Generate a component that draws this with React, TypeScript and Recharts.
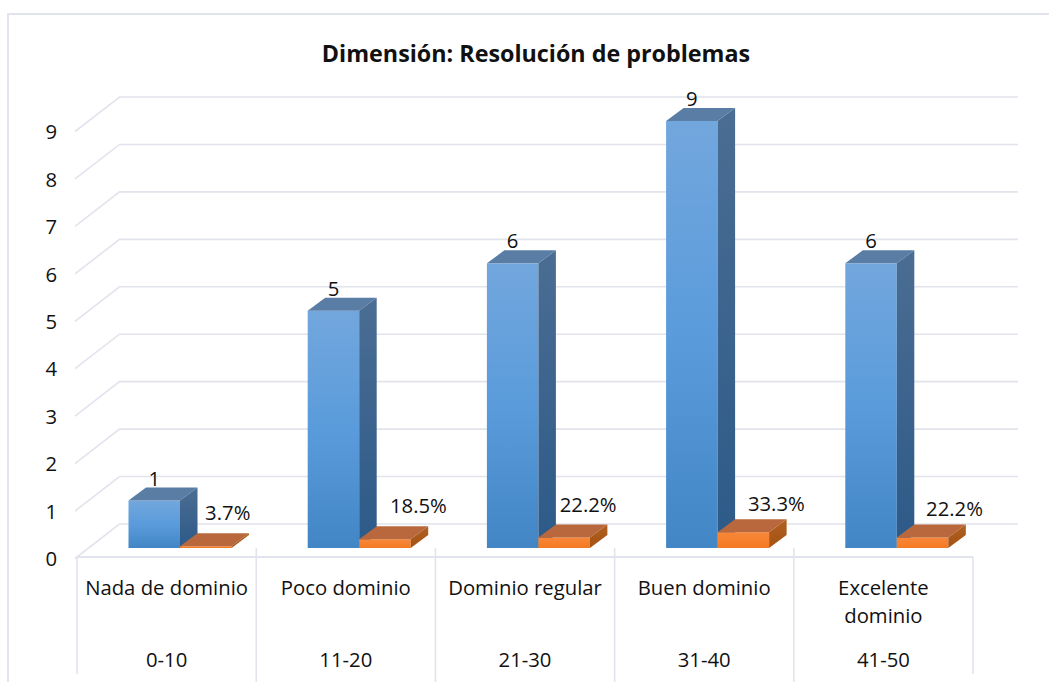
import React from "react";
import { BarChart, Bar, XAxis, YAxis, CartesianGrid, LabelList } from "recharts";

const levels = ["Nada de dominio", "Poco dominio", "Dominio regular", "Buen dominio", "Excelente dominio"];
const ranges = ["0-10", "11-20", "21-30", "31-40", "41-50"];
const counts = [1, 5, 6, 9, 6];
const percents = [3.7, 18.5, 22.2, 33.3, 22.2];
const yTicks = [0, 1, 2, 3, 4, 5, 6, 7, 8, 9];

// Hand-placed offsets of the percentage labels, as in the source chart.
const pctNudgeX = [22, 33.5, 24, 33, 32];
const pctNudgeY = [-33, -33, -32.5, -28, -28.5];

const rows = levels.map((level, i) => ({
  level,
  range: ranges[i],
  count: counts[i],
  share: percents[i] / 100,
}));

const FONT = "'Open Sans', sans-serif";
const FS = 20.3;
const GRID = "#e1e4ec";
const INK = "#111";
const DEPTH_X = 17.5;
const DEPTH_Y = 13;
const SHIFT_X = 13.5;
const SHIFT_Y = 9;
const WALL_X = 42.5;
const WALL_Y = 33;
const STEP = 179.1;

const Box3D = (palette: { front: string; top: string; side: string }) => (p: any) => {
  const x = p.x + SHIFT_X;
  const y = p.y - SHIFT_Y;
  const w = p.width;
  const h = p.height;
  const r = x + w;
  const b = y + h;
  return (
    <g>
      <rect x={x} y={y} width={w} height={h} fill={`url(#${palette.front})`} />
      <polygon
        points={`${x},${y} ${x + DEPTH_X},${y - DEPTH_Y} ${r + DEPTH_X},${y - DEPTH_Y} ${r},${y}`}
        fill={palette.top}
      />
      <polygon
        points={`${r},${y} ${r + DEPTH_X},${y - DEPTH_Y} ${r + DEPTH_X},${b - DEPTH_Y} ${r},${b}`}
        fill={`url(#${palette.side})`}
      />
    </g>
  );
};

const blueBox = Box3D({ front: "blueFront", top: "#5a7da6", side: "blueSide" });
const orangeBox = Box3D({ front: "orangeFront", top: "#b8683c", side: "orangeSide" });

const gridLine = (p: any) => {
  const { x1, x2, y1, index } = p;
  const backY = y1 - WALL_Y;
  const isFloor = Math.abs(y1 - 557) < 1;
  return (
    <g key={`grid-${index}-${y1}`}>
      <polyline
        points={`${x1 - 2},${y1 + 1.5} ${x1 + WALL_X},${backY} ${x2 + 45},${backY}`}
        fill="none"
        stroke={GRID}
        strokeWidth={1.6}
      />
      {isFloor && <line x1={x1} x2={x2} y1={y1} y2={y1} stroke={GRID} strokeWidth={2} />}
    </g>
  );
};

const LevelTick = (p: any) => {
  const { x, payload, index } = p;
  const text: string = payload.value;
  const lines = text === "Excelente dominio" ? ["Excelente", "dominio"] : [text];
  const left = x - STEP / 2;
  const right = x + STEP / 2;
  const top = 557;
  return (
    <g>
      <line x1={left} x2={left} y1={index === 0 ? top : 548} y2={index === 0 ? 674 : 682} stroke={GRID} strokeWidth={1.6} />
      {index === levels.length - 1 && <line x1={right} x2={right} y1={top} y2={674} stroke={GRID} strokeWidth={1.6} />}
      {lines.map((l, i) => (
        <text key={l} x={x} y={588 + i * 27.5} dy="0.35em" textAnchor="middle" fontFamily={FONT} fontSize={FS} fill={INK}>
          {l}
        </text>
      ))}
    </g>
  );
};

const RangeTick = (p: any) => (
  <text x={p.x} y={660} dy="0.35em" textAnchor="middle" fontFamily={FONT} fontSize={FS} fill={INK}>
    {p.payload.value}
  </text>
);

const countLabel = (p: any) => (
  <text x={p.x + SHIFT_X + p.width / 2} y={p.y - SHIFT_Y - 22} dy="0.35em" textAnchor="middle" fontFamily={FONT} fontSize={FS} fill={INK}>
    {counts[p.index]}
  </text>
);

const pctLabel = (p: any) => (
  <text
    x={p.x + SHIFT_X + p.width / 2 + pctNudgeX[p.index]}
    y={p.y - SHIFT_Y + pctNudgeY[p.index]}
    dy="0.35em"
    textAnchor="middle"
    fontFamily={FONT}
    fontSize={FS}
    fill={INK}
  >
    {percents[p.index]}%
  </text>
);

export default function App() {
  return (
    <div style={{ position: "absolute", left: 0, top: 0, width: 1049, height: 682, overflow: "hidden", background: "#fff" }}>
      <div style={{ position: "absolute", left: 7, top: 13, width: 1042, height: 669, borderLeft: `2px solid ${GRID}`, borderTop: `2px solid ${GRID}` }} />
      <div
        style={{
          position: "absolute",
          left: 0,
          width: 1072,
          top: 38,
          textAlign: "center",
          fontFamily: FONT,
          fontWeight: 700,
          fontSize: 23.3,
          lineHeight: "30px",
          color: INK,
        }}
      >
        Dimensión: Resolución de problemas
      </div>
      <div style={{ position: "absolute", left: 0, top: 0 }}>
        <BarChart
          width={1049}
          height={682}
          data={rows}
          barSize={51.5}
          barGap={0}
          barCategoryGap={0}
          margin={{ left: 27, top: 130, right: 76, bottom: 0 }}
          style={{ background: "transparent" }}
        >
          <defs>
            <linearGradient id="blueFront" x1="0" y1="0" x2="0" y2="1">
              <stop offset="0" stopColor="#72a7dd" />
              <stop offset="0.5" stopColor="#5a9bdb" />
              <stop offset="1" stopColor="#4286c6" />
            </linearGradient>
            <linearGradient id="blueSide" x1="0" y1="0" x2="0" y2="1">
              <stop offset="0" stopColor="#4b6d93" />
              <stop offset="1" stopColor="#2c5a88" />
            </linearGradient>
            <linearGradient id="orangeFront" x1="0" y1="0" x2="0" y2="1">
              <stop offset="0" stopColor="#f8873a" />
              <stop offset="1" stopColor="#f47a22" />
            </linearGradient>
            <linearGradient id="orangeSide" x1="0" y1="0" x2="0" y2="1">
              <stop offset="0" stopColor="#b0601f" />
              <stop offset="1" stopColor="#a45215" />
            </linearGradient>
          </defs>
          <CartesianGrid horizontal={gridLine} vertical={false} />
          <XAxis
            dataKey="level"
            interval={0}
            height={80}
            axisLine={false}
            tickLine={false}
            tick={LevelTick}
          />
          <XAxis
            xAxisId={1}
            dataKey="range"
            interval={0}
            height={45}
            axisLine={false}
            tickLine={false}
            tick={RangeTick}
          />
          <YAxis
            type="number"
            domain={[0, 9]}
            ticks={yTicks}
            interval={0}
            width={50}
            axisLine={false}
            tickLine={false}
            tickSize={0}
            tickMargin={20}
            tick={{ fontFamily: FONT, fontSize: FS, fill: INK, dy: 2 }}
          />
          <Bar dataKey="count" shape={blueBox} isAnimationActive={false}>
            <LabelList dataKey="count" content={countLabel} />
          </Bar>
          <Bar dataKey="share" shape={orangeBox} isAnimationActive={false}>
            <LabelList dataKey="share" content={pctLabel} />
          </Bar>
        </BarChart>
      </div>
    </div>
  );
}
